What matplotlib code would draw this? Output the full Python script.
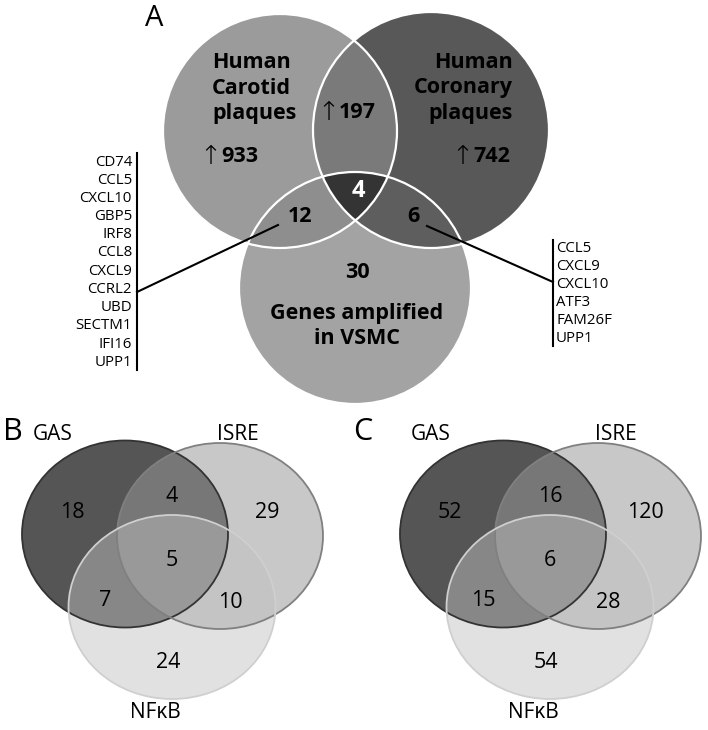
import numpy as np
import matplotlib
matplotlib.use("Agg")
import matplotlib.pyplot as plt
from matplotlib.patches import Circle, Ellipse, Polygon

plt.rcParams['font.family'] = ['Open Sans', 'DejaVu Sans']

# ---- panel A data ----
set_names_a = ["Human\nCarotid\nplaques", "Human\nCoronary\nplaques", "Genes amplified\nin VSMC"]
counts_a = {"L": "933", "R": "742", "B": "30", "LR": "197", "LB": "12", "RB": "6", "LRB": "4"}
genes_lb = ["CD74", "CCL5", "CXCL10", "GBP5", "IRF8", "CCL8", "CXCL9", "CCRL2",
            "UBD", "SECTM1", "IFI16", "UPP1"]
genes_rb = ["CCL5", "CXCL9", "CXCL10", "ATF3", "FAM26F", "UPP1"]

# ---- panels B / C data ----
motif_names = ["GAS", "ISRE", "NF\u03baB"]
counts_b = {"G": 18, "I": 29, "N": 24, "GI": 4, "GN": 7, "IN": 10, "GIN": 5}
counts_c = {"G": 52, "I": 120, "N": 54, "GI": 16, "GN": 15, "IN": 28, "GIN": 6}

fig = plt.figure(figsize=(7.08, 7.30), dpi=100)
ax = fig.add_axes([0, 0, 1, 1])
ax.set_xlim(0, 708)
ax.set_ylim(730, 0)
ax.set_aspect('equal')
ax.axis('off')

# circle geometry for A (pixel space)
circ = {"L": (280, 131, 117), "R": (431, 130, 118), "B": (355, 288, 116)}
region_col = {"L": "#9b9b9b", "R": "#585858", "B": "#a3a3a3",
              "LR": "#7a7a7a", "LB": "#8e8e8e", "RB": "#5e5e5e", "LRB": "#343434"}


def inside(p, c, tol=1e-6):
    return (p[0] - c[0]) ** 2 + (p[1] - c[1]) ** 2 <= c[2] ** 2 + tol


def region_poly(keys):
    pts = []
    t = np.linspace(0, 2 * np.pi, 1440, endpoint=False)
    for k in keys:
        cx, cy, r = circ[k]
        for a in t:
            p = (cx + r * np.cos(a), cy + r * np.sin(a))
            if all(inside(p, circ[o], 1.0) for o in keys if o != k):
                pts.append(p)
    pts = np.array(pts)
    m = pts.mean(axis=0)
    ang = np.arctan2(pts[:, 1] - m[1], pts[:, 0] - m[0])
    return pts[np.argsort(ang)]


for k in ["L", "R", "B"]:
    cx, cy, r = circ[k]
    ax.add_patch(Circle((cx, cy), r, fc=region_col[k], ec='none', zorder=1))
for k in ["LR", "LB", "RB", "LRB"]:
    ax.add_patch(Polygon(region_poly(list(k)), closed=True, fc=region_col[k], ec='none', zorder=2))
for k in ["L", "R", "B"]:
    cx, cy, r = circ[k]
    ax.add_patch(Circle((cx, cy), r, fc='none', ec='white', lw=1.6, zorder=3))


def up_count(xs, y, num):
    # thin arrow, bold number
    ax.text(xs + 1, y, "\u2191", fontsize=19, family='DejaVu Sans', fontweight='light',
            ha='right', va='center')
    ax.text(xs + 1, y, num, fontsize=15.5, fontweight='bold', ha='left', va='center')


ax.text(154, 19, "A", fontsize=21, ha='center', va='center')
ax.text(212, 88, set_names_a[0], fontsize=15.5, fontweight='bold', ha='left', va='center', linespacing=1.25)
ax.text(513, 88, set_names_a[1], fontsize=15.5, fontweight='bold', ha='right', va='center', linespacing=1.25)
up_count(220, 157, counts_a["L"])
up_count(472, 157, counts_a["R"])
up_count(338, 113, counts_a["LR"])
ax.text(358, 191, counts_a["LRB"], fontsize=17, fontweight='bold', color='white', ha='center', va='center')
ax.text(300, 217, counts_a["LB"], fontsize=15.5, fontweight='bold', ha='center', va='center')
ax.text(413, 217, counts_a["RB"], fontsize=15.5, fontweight='bold', ha='center', va='center')
ax.text(357, 273, counts_a["B"], fontsize=15.5, fontweight='bold', ha='center', va='center')
ax.text(357, 326, set_names_a[2], fontsize=15.5, fontweight='bold', ha='center', va='center',
        linespacing=1.25)

# gene lists
ax.plot([137, 137], [153, 370], color='black', lw=1.5, zorder=4)
for i, g in enumerate(genes_lb):
    ax.text(132, 162 + i * 18.2, g, fontsize=10.8, ha='right', va='center')
ax.plot([137, 278], [292, 225], color='black', lw=1.5, zorder=4)

ax.plot([553, 553], [240, 346], color='black', lw=1.5, zorder=4)
for i, g in enumerate(genes_rb):
    ax.text(556, 248 + i * 18, g, fontsize=10.8, ha='left', va='center')
ax.plot([427, 553], [226, 282], color='black', lw=1.5, zorder=4)


def motif_venn(dx, counts, letter, letter_x):
    ell = [((125 + dx, 534), 206, 187, "#555555", 1.0, "#333333"),
           ((220 + dx, 536), 206, 186, "#979797", 0.53, "#808080"),
           ((172 + dx, 607), 207, 184, "#c1c1c1", 0.47, "#cfcfcf")]
    for (c, w, h, fc, al, ec) in ell:
        ax.add_patch(Ellipse(c, w, h, fc=fc, alpha=al, ec='none', zorder=1))
        ax.add_patch(Ellipse(c, w, h, fc='none', ec=ec, lw=1.3, zorder=2))
    ax.text(letter_x, 432, letter, fontsize=22, ha='center', va='center')
    ax.text(53 + dx, 434, motif_names[0], fontsize=15, ha='center', va='center')
    ax.text(238 + dx, 434, motif_names[1], fontsize=15, ha='center', va='center')
    ax.text(155 + dx, 712, motif_names[2], fontsize=15, ha='center', va='center')
    pos = {"G": (72, 513), "GI": (172, 497), "I": (267, 513), "GIN": (172, 560),
           "GN": (105, 600), "IN": (230, 602), "N": (168, 662)}
    for k, (x, y) in pos.items():
        ax.text(x + dx, y, str(counts[k]), fontsize=15.5, ha='center', va='center', zorder=3)


motif_venn(0, counts_b, "B", 13)
motif_venn(378, counts_c, "C", 363)

fig.savefig("out.png", dpi=100)
